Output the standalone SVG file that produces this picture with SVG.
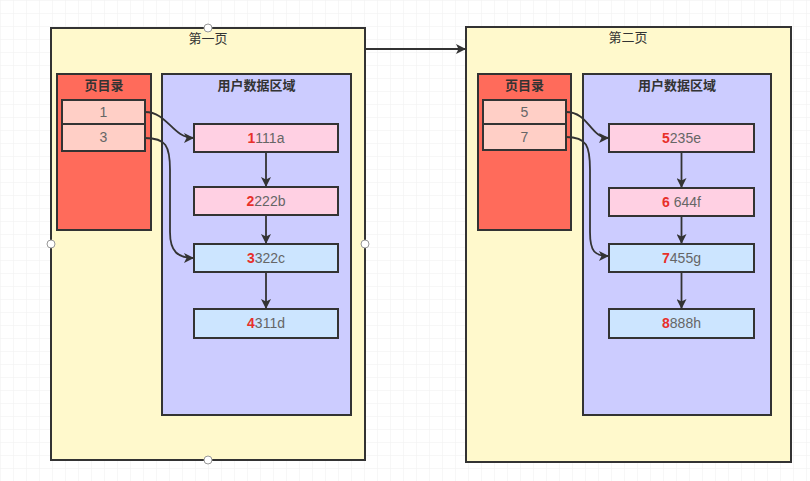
<svg xmlns="http://www.w3.org/2000/svg" width="810" height="481" viewBox="0 0 810 481">
<defs>
<pattern id="grid" width="13" height="13" patternUnits="userSpaceOnUse">
<path d="M13 0H0V13" fill="none" stroke="#efefef" stroke-width="1"/>
</pattern>
<marker id="ah" viewBox="0 0 10 10" refX="10" refY="5" markerWidth="11" markerHeight="10" orient="auto" markerUnits="userSpaceOnUse">
<path d="M0,0 L10,5 L0,10 L2.5,5 Z" fill="#333"/>
</marker>
</defs>
<style>
.page{fill:#fff9cc;stroke:#333;stroke-width:2}
.dir{fill:#ff6b5b;stroke:#333;stroke-width:2}
.ent{fill:#ffcfc6;stroke:#333;stroke-width:2}
.area{fill:#ccccff;stroke:#333;stroke-width:2}
.pk{fill:#ffd0e3;stroke:#333;stroke-width:2}
.bl{fill:#cce5ff;stroke:#333;stroke-width:2}
.cn{font-family:"Noto Sans CJK SC",sans-serif;font-size:13px;fill:#333;text-anchor:middle}
.hd{font-family:"Noto Sans CJK SC",sans-serif;font-size:13px;font-weight:bold;fill:#333;text-anchor:middle}
.t{font-family:"Liberation Sans",Arial,sans-serif;font-size:14px;fill:#666;text-anchor:middle}
.r{fill:#e8302a;font-weight:bold}
.c{fill:none;stroke:#333;stroke-width:1.8;marker-end:url(#ah)}
.h{fill:#fff;stroke:#999;stroke-width:1}
</style>
<rect width="810" height="481" fill="#fff"/>
<rect width="810" height="481" fill="url(#grid)"/>

<g id="page1">
<rect class="page" x="51" y="28" width="314" height="432"/>
<text class="cn" x="208" y="43">第一页</text>
</g>
<g id="dir1">
<rect class="dir" x="57" y="74" width="94" height="156"/>
<text class="hd" x="104" y="90">页目录</text>
</g>
<g id="e1">
<rect class="ent" x="62" y="100" width="83" height="24"/>
<text class="t" x="103.5" y="117">1</text>
</g>
<g id="e3">
<rect class="ent" x="62" y="124" width="83" height="27"/>
<text class="t" x="103.5" y="142">3</text>
</g>
<g id="area1">
<rect class="area" x="162" y="74" width="189" height="341"/>
<text class="hd" x="256.5" y="90">用户数据区域</text>
</g>
<g id="r1">
<rect class="pk" x="194" y="124" width="144" height="28"/>
<text class="t" x="266" y="143"><tspan class="r">1</tspan>111a</text>
</g>
<g id="r2">
<rect class="pk" x="194" y="187" width="144" height="28"/>
<text class="t" x="266" y="206"><tspan class="r">2</tspan>222b</text>
</g>
<g id="r3">
<rect class="bl" x="194" y="244" width="144" height="28"/>
<text class="t" x="266" y="263"><tspan class="r">3</tspan>322c</text>
</g>
<g id="r4">
<rect class="bl" x="194" y="309" width="144" height="29"/>
<text class="t" x="266" y="328"><tspan class="r">4</tspan>311d</text>
</g>

<g id="page2">
<rect class="page" x="466" y="27" width="325" height="435"/>
<text class="cn" x="628" y="42">第二页</text>
</g>
<g id="dir2">
<rect class="dir" x="478" y="74" width="93" height="156"/>
<text class="hd" x="524.5" y="90">页目录</text>
</g>
<g id="e5">
<rect class="ent" x="483" y="100" width="83" height="24"/>
<text class="t" x="524.5" y="117">5</text>
</g>
<g id="e7">
<rect class="ent" x="483" y="124" width="83" height="26"/>
<text class="t" x="524.5" y="142">7</text>
</g>
<g id="area2">
<rect class="area" x="583" y="74" width="188" height="341"/>
<text class="hd" x="677" y="90">用户数据区域</text>
</g>
<g id="r5">
<rect class="pk" x="609" y="124" width="145" height="28"/>
<text class="t" x="681.5" y="143"><tspan class="r">5</tspan>235e</text>
</g>
<g id="r6">
<rect class="pk" x="609" y="188" width="145" height="28"/>
<text class="t" x="681.5" y="207"><tspan class="r">6</tspan> 644f</text>
</g>
<g id="r7">
<rect class="bl" x="609" y="244" width="145" height="28"/>
<text class="t" x="681.5" y="263"><tspan class="r">7</tspan>455g</text>
</g>
<g id="r8">
<rect class="bl" x="609" y="309" width="145" height="29"/>
<text class="t" x="681.5" y="328"><tspan class="r">8</tspan>888h</text>
</g>

<g id="connectors">
<path class="c" d="M365,49 H466"/>
<path class="c" d="M145,112 C168,112 172,138 194,138"/>
<path class="c" d="M145,138 C166,138 170,146 170,170 L170,232 C170,252 178,258 194,258"/>
<path class="c" d="M266,152 V187"/>
<path class="c" d="M266,215 V244"/>
<path class="c" d="M266,272 V309"/>
<path class="c" d="M566,112 C589,112 590,138 609,138"/>
<path class="c" d="M566,137 C587,137 590,146 590,170 L590,232 C590,252 595,256 609,256"/>
<path class="c" d="M681.5,152 V188"/>
<path class="c" d="M681.5,216 V244"/>
<path class="c" d="M681.5,272 V309"/>
</g>

<g id="handles">
<circle class="h" cx="208" cy="28" r="4"/>
<circle class="h" cx="51" cy="244" r="4"/>
<circle class="h" cx="365" cy="244" r="4"/>
<circle class="h" cx="208" cy="460" r="4"/>
</g>
</svg>
